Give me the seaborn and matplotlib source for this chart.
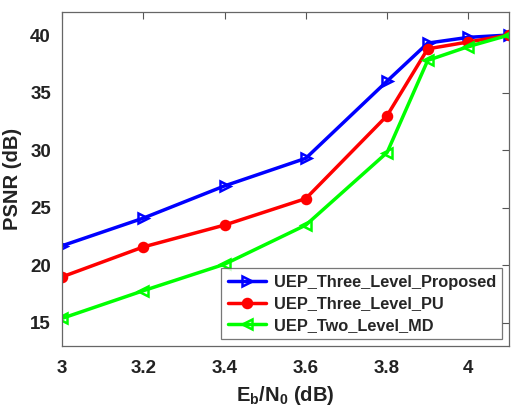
import matplotlib
matplotlib.use("Agg")
import matplotlib.pyplot as plt
import seaborn as sns
import pandas as pd

ebn0 = [3.0, 3.2, 3.4, 3.6, 3.8, 3.9, 4.0, 4.1]
proposed = [21.7, 24.1, 26.9, 29.3, 36.0, 39.3, 39.8, 40.0]
pu = [19.0, 21.6, 23.5, 25.8, 33.0, 38.8, 39.4, 40.0]
md = [15.4, 17.8, 20.1, 23.5, 29.8, 37.8, 39.0, 40.0]
names = ["UEP_Three_Level_Proposed", "UEP_Three_Level_PU", "UEP_Two_Level_MD"]
xticks = [3, 3.2, 3.4, 3.6, 3.8, 4]
xticklabels = ["3", "3.2", "3.4", "3.6", "3.8", "4"]
yticks = [15, 20, 25, 30, 35, 40]

sns.set_theme(style="white")
plt.rcParams['font.family'] = ['Liberation Sans', 'DejaVu Sans']
plt.rcParams['font.weight'] = 'bold'
plt.rcParams['mathtext.fontset'] = 'custom'
plt.rcParams['mathtext.rm'] = 'Liberation Sans:bold'
plt.rcParams['mathtext.it'] = 'Liberation Sans:bold'
plt.rcParams['mathtext.bf'] = 'Liberation Sans:bold'

df = pd.DataFrame({"x": ebn0 * 3,
                   "y": proposed + pu + md,
                   "s": [names[0]] * 8 + [names[1]] * 8 + [names[2]] * 8})

fig = plt.figure(figsize=(5.14, 4.09), dpi=100)
ax = fig.add_axes([62/514, 63/409, 447/514, 334/409])

colors = ["#0000ff", "#ff0000", "#00ff00"]
markers = [">", "o", "<"]
fills = ["none", "#ff0000", "none"]
sizes = [7, 6.5, 7]
for name, c, m, f, ms in zip(names, colors, markers, fills, sizes):
    sub = df[df.s == name]
    sns.lineplot(data=sub, x="x", y="y", ax=ax, color=c, linewidth=2.5,
                 marker=m, markersize=ms, markerfacecolor=f,
                 markeredgecolor=c, markeredgewidth=1.8, label=name)

ax.set_xlim(3, 4.1)
ax.set_ylim(13, 42)
ax.set_xticks(xticks)
ax.set_xticklabels(xticklabels)
ax.set_yticks(yticks)
ax.tick_params(direction="in", length=5, width=0.8, color="#555555",
               top=True, right=True, labelsize=13.5, pad=10, labelcolor="#222222")
ax.tick_params(axis="y", pad=8)
for lab in ax.get_xticklabels() + ax.get_yticklabels():
    lab.set_fontweight("bold")
for sp in ax.spines.values():
    sp.set_color("#666666")
    sp.set_linewidth(0.9)

ax.set_xlabel(r"E$_\mathregular{b}$/N$_\mathregular{0}$ (dB)", fontsize=14.5, fontweight="bold", color="#222222", labelpad=5)
ax.set_ylabel("PSNR (dB)", fontsize=14.5, fontweight="bold", color="#222222", labelpad=6)

leg = ax.legend(loc="lower right", fontsize=11.8, frameon=True, fancybox=False,
                edgecolor="#555555", borderaxespad=0.4, handlelength=2.35,
                handletextpad=0.45, labelspacing=0.4, borderpad=0.4)
leg.get_frame().set_linewidth(0.9)
for t in leg.get_texts():
    t.set_fontweight("bold")

fig.savefig("out.png", dpi=100)
